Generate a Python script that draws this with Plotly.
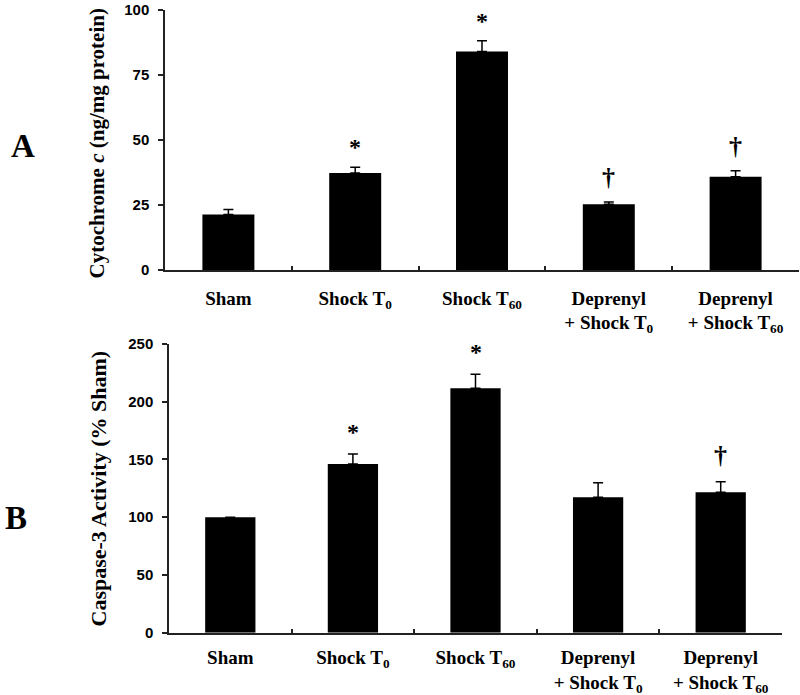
import plotly.graph_objects as go

categories = ["Sham", "Shock T<sub>0</sub>", "Shock T<sub>60</sub>",
              "Deprenyl<br>+ Shock T<sub>0</sub>", "Deprenyl<br>+ Shock T<sub>60</sub>"]

cyto_values = [21.3, 37.3, 84.0, 25.3, 35.9]
cyto_err = [2.0, 2.2, 4.2, 0.9, 2.3]
cyto_marks = ["", "*", "*", "†", "†"]

casp_values = [100, 146, 211.6, 117.2, 121.6]
casp_err = [None, 8.7, 12.1, 12.7, 9.1]
casp_marks = ["", "*", "*", "", "†"]

cyto_ticks = [0, 25, 50, 75, 100]
casp_ticks = [0, 50, 100, 150, 200, 250]

W, H = 800, 695
SERIF = "Liberation Serif"
SANS = "Liberation Sans"
AX = "#222222"


def px(x):
    return x / W


def py(y):
    return 1 - y / H


fig = go.Figure()

fig.add_trace(go.Bar(
    x=categories, y=cyto_values, xaxis="x", yaxis="y",
    marker=dict(color="black", line=dict(width=0)),
    error_y=dict(type="data", symmetric=False, array=cyto_err,
                 arrayminus=[0] * len(cyto_err), color="black",
                 thickness=1.5, width=5),
    showlegend=False,
))
fig.add_trace(go.Bar(
    x=categories, y=casp_values, xaxis="x2", yaxis="y2",
    marker=dict(color="black", line=dict(width=0)),
    error_y=dict(type="data", symmetric=False, array=casp_err,
                 arrayminus=[0] * len(casp_err), color="black",
                 thickness=1.5, width=5),
    showlegend=False,
))


def xaxis_cfg(domain, anchor, standoff):
    return dict(
        domain=domain, anchor=anchor, type="category",
        range=[-0.5, len(categories) - 0.5],
        showline=True, linecolor=AX, linewidth=1.5,
        ticks="inside", tickson="boundaries", ticklen=4, tickwidth=1.5, tickcolor=AX,
        tickfont=dict(family=SERIF, size=19, color="black", weight="bold"),
        ticklabelstandoff=standoff,
        showgrid=False, zeroline=False, automargin=False, fixedrange=True,
    )


def yaxis_cfg(domain, anchor, rng, ticks):
    return dict(
        domain=domain, anchor=anchor, range=rng,
        tickmode="array", tickvals=ticks, ticktext=[str(t) for t in ticks],
        showline=True, linecolor=AX, linewidth=1.5,
        ticks="outside", ticklen=5, tickwidth=1.5, tickcolor=AX,
        tickfont=dict(family=SANS, size=15, color="black", weight="bold"),
        ticklabelstandoff=6, ticklabeloverflow="allow",
        showgrid=False, zeroline=False, automargin=False, fixedrange=True,
    )


fig.update_layout(
    width=W, height=H,
    margin=dict(l=0, r=0, t=0, b=0),
    paper_bgcolor="white", plot_bgcolor="white",
    bargap=0.59,
    xaxis=xaxis_cfg([px(165), px(799)], "y", 10),
    yaxis=yaxis_cfg([py(270), py(10)], "x", [0, 100], cyto_ticks),
    xaxis2=xaxis_cfg([px(169), px(782)], "y2", 7),
    yaxis2=yaxis_cfg([py(632.7), py(344)], "x2", [0, 250], casp_ticks),
)

annotations = []
# significance marks placed just above each error bar
for vals, errs, marks, xr, yr, shifts in [
    (cyto_values, cyto_err, cyto_marks, "x", "y", {"*": 5, "†": 8}),
    (casp_values, casp_err, casp_marks, "x2", "y2", {"*": 7, "†": 10}),
]:
    for c, v, e, m in zip(categories, vals, errs, marks):
        if m:
            annotations.append(dict(
                x=c, y=v + (e or 0), xref=xr, yref=yr, text=m, showarrow=False,
                yanchor="bottom", yshift=shifts[m],
                font=dict(family=SERIF, size=26 if m == "†" else 24, color="black", weight="bold"),
            ))

# axis titles
annotations.append(dict(
    x=px(97), y=py(143.5), xref="paper", yref="paper",
    text="Cytochrome <i>c</i> (ng/mg protein)", textangle=-90, showarrow=False,
    xanchor="center", yanchor="middle",
    font=dict(family=SERIF, size=21, color="black", weight="bold"),
))
annotations.append(dict(
    x=px(98), y=py(488.5), xref="paper", yref="paper",
    text="Caspase-3 Activity (% Sham)", textangle=-90, showarrow=False,
    xanchor="center", yanchor="middle",
    font=dict(family=SERIF, size=22, color="black", weight="bold"),
))
# panel letters
annotations.append(dict(
    x=px(23), y=py(146), xref="paper", yref="paper", text="A", showarrow=False,
    xanchor="center", yanchor="middle",
    font=dict(family=SERIF, size=33, color="black", weight="bold"),
))
annotations.append(dict(
    x=px(16), y=py(518), xref="paper", yref="paper", text="B", showarrow=False,
    xanchor="center", yanchor="middle",
    font=dict(family=SERIF, size=33, color="black", weight="bold"),
))

fig.update_layout(annotations=annotations)
# remove the browser's default 8px body margin so the figure fills the window exactly
fig.write_html("out.html", config={"displayModeBar": False},
               post_script="document.body.style.margin='0';")
